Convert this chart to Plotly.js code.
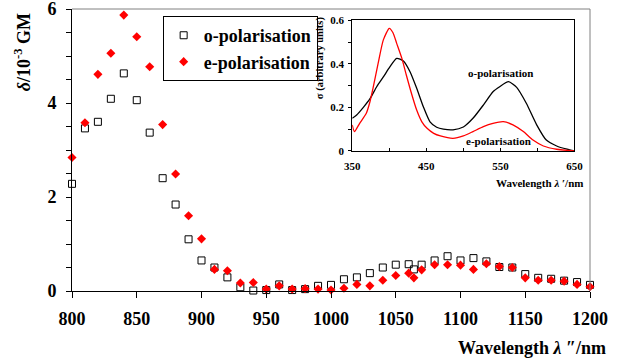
<!DOCTYPE html>
<html>
<head>
<meta charset="utf-8">
<script src="https://cdn.plot.ly/plotly-3.0.1.min.js"></script>
<style>html,body{margin:0;padding:0;background:#fff;}#chart{width:619px;height:360px;}</style>
</head>
<body>
<div id="chart"></div>
<script>
// Main chart: two-photon cross-section vs excitation wavelength
var wavelength = [800,810,820,830,840,850,860,870,880,890,900,910,920,930,940,950,960,970,980,990,1000,1010,1020,1030,1040,1050,1060,1064,1070,1080,1090,1100,1110,1120,1130,1140,1150,1160,1170,1180,1190,1200];
var oPol = [2.28,3.46,3.60,4.09,4.63,4.06,3.37,2.40,1.84,1.10,0.65,0.50,0.29,0.08,0.01,0.02,0.14,0.02,0.04,0.11,0.13,0.25,0.29,0.38,0.50,0.56,0.57,0.46,0.56,0.65,0.74,0.65,0.70,0.63,0.51,0.50,0.36,0.28,0.26,0.22,0.19,0.13];
var ePol = [2.84,3.58,4.61,5.06,5.87,5.41,4.77,3.54,2.49,1.60,1.11,0.46,0.43,0.17,0.18,0.04,0.11,0.04,0.05,0.04,0.02,0.06,0.14,0.11,0.23,0.33,0.38,0.28,0.45,0.56,0.56,0.55,0.46,0.58,0.52,0.50,0.28,0.23,0.23,0.21,0.14,0.09];

// Inset: one-photon absorption spectra
var insetWlO = [350,356,365,374,383,392,401,410,419,428,437,446,455,464,473,486,500,513,527,540,549,561,572,585,599,612,626,640,650];
var insetO   = [0.150,0.165,0.200,0.240,0.295,0.340,0.387,0.425,0.413,0.364,0.288,0.203,0.134,0.109,0.100,0.097,0.110,0.150,0.211,0.272,0.295,0.318,0.292,0.219,0.120,0.050,0.023,0.008,0.000];
var insetWlE = [350,353,360,369,374,378,385,392,400,405,410,417,423,430,437,444,451,460,469,486,500,513,527,540,554,567,581,594,608,626,650];
var insetE   = [0.120,0.089,0.127,0.173,0.227,0.287,0.403,0.510,0.563,0.543,0.494,0.425,0.349,0.264,0.188,0.134,0.104,0.081,0.069,0.058,0.069,0.089,0.112,0.127,0.135,0.120,0.089,0.050,0.023,0.008,0.000];

var FONT = 'Liberation Serif, Times New Roman, serif';

var traces = [
  {x: wavelength, y: oPol, type:'scatter', mode:'markers', name:'o-polarisation', legendgroup:'o',
   cliponaxis:false,
   marker:{symbol:'square-open', size:7, color:'#000', line:{width:1, color:'#000'}}},
  {x: wavelength, y: ePol, type:'scatter', mode:'markers', name:'e-polarisation', legendgroup:'e',
   cliponaxis:false,
   marker:{symbol:'diamond', size:7, color:'#ff0000', line:{width:0}}},
  {x: insetWlO, y: insetO, xaxis:'x2', yaxis:'y2', type:'scatter', mode:'lines', showlegend:false,
   line:{color:'#000', width:1.3, shape:'spline', smoothing:0.6}},
  {x: insetWlE, y: insetE, xaxis:'x2', yaxis:'y2', type:'scatter', mode:'lines', showlegend:false,
   line:{color:'#ff0000', width:1.3, shape:'spline', smoothing:0.6}}
];

var layout = {
  width:619, height:360,
  margin:{l:72, r:29, t:9, b:69},
  paper_bgcolor:'#fff', plot_bgcolor:'rgba(0,0,0,0)',
  font:{family:FONT, color:'#000'},
  showlegend:true,
  legend:{x:0.175, y:0.975, xanchor:'left', yanchor:'top', bgcolor:'#fff', bordercolor:'#000', borderwidth:1,
          font:{family:FONT, size:18, weight:'bold', color:'#000'}, traceorder:'grouped', tracegroupgap:0},
  xaxis:{domain:[0,1], range:[800,1200], tick0:800, dtick:50, ticks:'outside', ticklen:6, tickcolor:'#000',
         showline:true, linecolor:'#000', linewidth:1, showgrid:false, zeroline:false, ticklabeloverflow:'allow',
         tickfont:{family:FONT, size:18, weight:'bold', color:'#000'}, ticklabelstandoff:5},
  yaxis:{domain:[0,1], range:[0,6], tick0:0, dtick:2, ticks:'outside', ticklen:5, tickcolor:'#000',
         minor:{dtick:0.5, ticks:'outside', ticklen:5, tickcolor:'#000', showgrid:false},
         showline:true, linecolor:'#000', linewidth:1, showgrid:false, zeroline:false, ticklabeloverflow:'allow',
         tickfont:{family:FONT, size:18, weight:'bold', color:'#000'}, ticklabelstandoff:6},
  xaxis2:{domain:[0.541,0.970], anchor:'y2', range:[350,650], tick0:350, dtick:100, ticks:'inside', ticklen:3,
          tickcolor:'#000', minor:{dtick:50, ticks:'inside', ticklen:3, tickcolor:'#000', showgrid:false},
          showline:true, mirror:true, linecolor:'#000', linewidth:1, showgrid:false, zeroline:false,
          tickfont:{family:FONT, size:11, weight:'bold', color:'#000'}, ticklabelstandoff:5},
  yaxis2:{domain:[0.4965,0.960], anchor:'x2', range:[0,0.6], tick0:0, dtick:0.2, ticks:'outside', ticklen:3,
          tickcolor:'#000', minor:{dtick:0.1, ticks:'outside', ticklen:3, tickcolor:'#000', showgrid:false},
          showline:true, mirror:true, linecolor:'#000', linewidth:1, showgrid:false, zeroline:false,
          tickfont:{family:FONT, size:11, weight:'bold', color:'#000'}, ticklabelstandoff:2},
  shapes:[
    {type:'line', xref:'paper', yref:'paper', x0:0, x1:1, y0:1, y1:1, line:{color:'#808080', width:1}},
    {type:'line', xref:'paper', yref:'paper', x0:1, x1:1, y0:0, y1:1, line:{color:'#808080', width:1}}
  ],
  annotations:[
    {xref:'paper', yref:'paper', x:-0.095, y:0.846, xanchor:'center', yanchor:'middle', textangle:-90, showarrow:false,
     text:'<b><i>δ</i>/10<sup>-3</sup> GM</b>', font:{family:FONT, size:18, color:'#000'}},
    {xref:'paper', yref:'paper', x:1.035, y:-0.202, xanchor:'right', yanchor:'middle', showarrow:false,
     text:'<b>Wavelength <i>λ</i> ″/nm</b>', font:{family:FONT, size:18, color:'#000'}},
    {xref:'paper', yref:'paper', x:0.99, y:0.382, xanchor:'right', yanchor:'middle', showarrow:false,
     text:'<b>Wavelength <i>λ</i> ′/nm</b>', font:{family:FONT, size:11, color:'#000'}},
    {xref:'paper', yref:'paper', x:0.479, y:0.826, xanchor:'center', yanchor:'middle', textangle:-90, showarrow:false,
     text:'<b>σ (arbitrary units)</b>', font:{family:FONT, size:10.5, color:'#000'}},
    {xref:'x2', yref:'y2', x:550, y:0.36, xanchor:'center', yanchor:'middle', showarrow:false,
     text:'<b>o-polarisation</b>', font:{family:FONT, size:11, color:'#000'}},
    {xref:'x2', yref:'y2', x:547, y:0.045, xanchor:'center', yanchor:'middle', showarrow:false,
     text:'<b>e-polarisation</b>', font:{family:FONT, size:11, color:'#000'}}
  ]
};

Plotly.newPlot('chart', traces, layout, {displayModeBar:false, staticPlot:true});
</script>
</body>
</html>
